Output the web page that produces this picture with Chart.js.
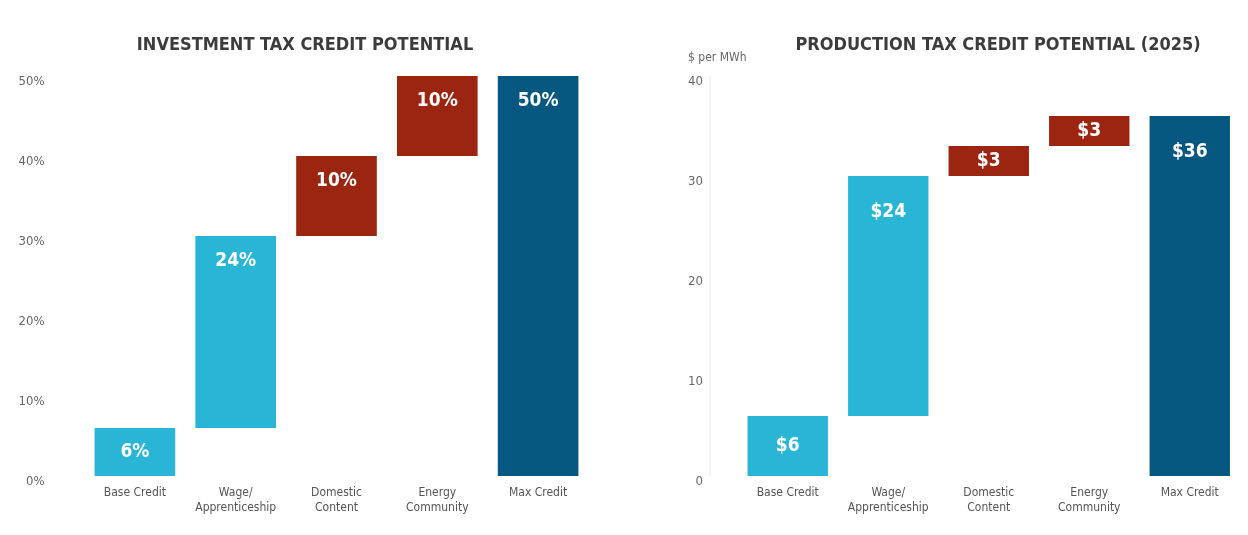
<!DOCTYPE html>
<html>
<head>
<meta charset="utf-8">
<script src="https://cdn.jsdelivr.net/npm/chart.js@4/dist/chart.umd.min.js"></script>
<style>
  html, body { margin: 0; padding: 0; background: #fff; }
  .box { position: absolute; top: 0; height: 535px; }
  #leftBox { left: 0; width: 620px; }
  #rightBox { left: 620px; width: 628px; }
</style>
</head>
<body>
<div class="box" id="leftBox"><canvas id="itcChart"></canvas></div>
<div class="box" id="rightBox"><canvas id="ptcChart"></canvas></div>
<script>
const categories = ['Base Credit', ['Wage/', 'Apprenticeship'], ['Domestic', 'Content'], ['Energy', 'Community'], 'Max Credit'];

// investment tax credit, percent
const itcStart = [0, 6, 30, 40, 0];
const itcEnd = [6, 30, 40, 50, 50];
const itcLabels = ['6%', '24%', '10%', '10%', '50%'];
const itcTicks = [0, 10, 20, 30, 40, 50];

// production tax credit, $ per MWh
const ptcStart = [0, 6, 30, 33, 0];
const ptcEnd = [6, 30, 33, 36, 36];
const ptcLabels = ['$6', '$24', '$3', '$3', '$36'];
const ptcTicks = [0, 10, 20, 30, 40];

const FONT = '"Liberation Sans Narrow", "DejaVu Sans Condensed", "Roboto Condensed", sans-serif';
const LIGHT = 'rgb(41, 182, 214)';
const RED = 'rgb(155, 37, 16)';
const DARK = 'rgb(6, 88, 128)';
const barColors = [LIGHT, LIGHT, RED, RED, DARK];

Chart.defaults.font.family = FONT;
Chart.defaults.color = '#666';

// writes the value text inside each bar, near its top
const barText = {
  id: 'barText',
  afterDatasetsDraw(chart, args, opts) {
    const {ctx} = chart;
    const meta = chart.getDatasetMeta(0);
    ctx.save();
    ctx.fillStyle = '#fff';
    ctx.font = 'bold 19px ' + FONT;
    ctx.textAlign = 'center';
    ctx.textBaseline = 'middle';
    meta.data.forEach((bar, i) => {
      const top = Math.min(bar.y, bar.base);
      const bottom = Math.max(bar.y, bar.base);
      const y = Math.min(top + opts.offset, (top + bottom) / 2);
      ctx.fillText(opts.labels[i], bar.x, y);
    });
    ctx.restore();
  }
};

// heading and small axis note, drawn by hand so they sit where the original has them
const headings = {
  id: 'headings',
  afterDraw(chart, args, opts) {
    const {ctx} = chart;
    ctx.save();
    ctx.fillStyle = '#3c3c3c';
    ctx.font = 'bold 18px ' + FONT;
    ctx.textAlign = 'center';
    ctx.textBaseline = 'middle';
    ctx.fillText(opts.text, opts.x, 45);
    if (opts.unit) {
      ctx.fillStyle = '#666';
      ctx.font = '12px ' + FONT;
      ctx.textAlign = 'left';
      ctx.fillText(opts.unit, opts.unitX, 58);
    }
    if (opts.axisLineX) {
      const a = chart.chartArea;
      ctx.strokeStyle = '#ececec';
      ctx.lineWidth = 1;
      ctx.beginPath();
      ctx.moveTo(opts.axisLineX, a.top);
      ctx.lineTo(opts.axisLineX, a.bottom);
      ctx.stroke();
    }
    ctx.restore();
  }
};

function makeChart(id, start, end, labels, ticks, fmt, yWidth, padRight, tickPad, labelOffset, headingOpts) {
  return new Chart(document.getElementById(id), {
    type: 'bar',
    data: {
      labels: categories,
      datasets: [{
        data: start.map((s, i) => [s, end[i]]),
        backgroundColor: barColors,
        borderWidth: 0,
        borderSkipped: false,
        barPercentage: 0.8,
        categoryPercentage: 1.0
      }]
    },
    options: {
      responsive: false,
      animation: false,
      layout: { padding: { top: 76, right: padRight, bottom: 0, left: 0 } },
      plugins: {
        legend: { display: false },
        tooltip: { enabled: false },
        title: { display: false },
        barText: { labels: labels, offset: labelOffset },
        headings: headingOpts
      },
      scales: {
        x: {
          grid: { display: false, drawTicks: false },
          border: { display: false },
          ticks: { color: '#555', font: { size: 12 }, padding: 10, maxRotation: 0, autoSkip: false },
          afterFit(scale) { scale.height = 59; }
        },
        y: {
          min: ticks[0],
          max: ticks[ticks.length - 1],
          afterBuildTicks(scale) { scale.ticks = ticks.map(v => ({ value: v })); },
          grid: { display: false, drawTicks: false },
          border: { display: false },
          ticks: {
            color: '#666',
            font: { size: 13 },
            padding: tickPad,
            labelOffset: 6,
            callback: fmt
          },
          afterFit(scale) { scale.width = yWidth; }
        }
      }
    },
    plugins: [barText, headings]
  });
}

function sizeCanvas(id, w, h) {
  const c = document.getElementById(id);
  c.width = w; c.height = h;
  c.style.width = w + 'px'; c.style.height = h + 'px';
}
sizeCanvas('itcChart', 620, 535);
sizeCanvas('ptcChart', 628, 535);

makeChart('itcChart', itcStart, itcEnd, itcLabels, itcTicks, v => v + '%',
  84.5, 31.5, 40, 25,
  { text: 'INVESTMENT TAX CREDIT POTENTIAL', x: 305 });

makeChart('ptcChart', ptcStart, ptcEnd, ptcLabels, ptcTicks, v => String(v),
  117.5, 8, 34.5, 36,
  { text: 'PRODUCTION TAX CREDIT POTENTIAL (2025)', x: 378, unit: '$ per MWh', unitX: 68, axisLineX: 90 });
</script>
</body>
</html>
